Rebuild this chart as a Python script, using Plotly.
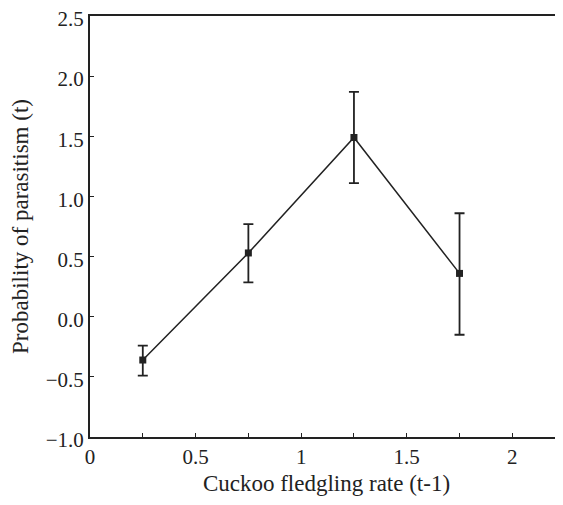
import plotly.graph_objects as go

x_vals = [0.25, 0.75, 1.25, 1.75]
y_vals = [-0.36, 0.53, 1.49, 0.36]
err_plus = [0.12, 0.24, 0.38, 0.50]
err_minus = [0.13, 0.245, 0.38, 0.51]

x_tickvals = [0, 0.5, 1, 1.5, 2]
x_ticktext = ["0", "0.5", "1", "1.5", "2"]
y_tickvals = [-1.0, -0.5, 0.0, 0.5, 1.0, 1.5, 2.0, 2.5]
y_ticktext = ["\u22121.0", "\u22120.5", "0.0", "0.5", "1.0", "1.5", "2.0", "2.5"]

font_family = "Liberation Serif"
ink = "#222222"

fig = go.Figure(go.Scatter(
    x=x_vals, y=y_vals,
    mode="lines+markers",
    line=dict(color=ink, width=1.5),
    marker=dict(symbol="square", size=7, color=ink),
    error_y=dict(type="data", symmetric=False, array=err_plus, arrayminus=err_minus,
                 color=ink, thickness=1.8, width=5),
    showlegend=False,
))

# page body has an 8px default margin, so the figure is sized to fit the window
fig.update_layout(
    width=555, height=489,
    margin=dict(l=82, r=0, t=8, b=60),
    paper_bgcolor="white", plot_bgcolor="white",
    font=dict(family=font_family, size=21, color=ink),
    xaxis=dict(
        range=[0, 2.24], tickvals=x_tickvals, ticktext=x_ticktext, automargin=False,
        ticks="inside", ticklen=4, tickcolor=ink, showgrid=False, zeroline=False,
        showline=True, linecolor=ink, linewidth=2, mirror=True, ticklabeloverflow="allow",
        minor=dict(tickvals=[0.25, 0.75, 1.25, 1.75], ticks="inside", ticklen=4, tickcolor=ink),
        title=dict(text="Cuckoo fledgling rate (t-1)", standoff=7, font=dict(size=23)),
        tickfont=dict(size=21),
    ),
    yaxis=dict(
        range=[-1.0, 2.5], tickvals=y_tickvals, ticktext=y_ticktext, automargin=False,
        ticks="inside", ticklen=4, tickcolor=ink, showgrid=False, zeroline=False,
        showline=True, linecolor=ink, linewidth=2, mirror=False, ticklabeloverflow="allow",
        ticklabelshift=3,
        title=dict(text="Probability of parasitism (t)", standoff=14, font=dict(size=23)),
        tickfont=dict(size=21),
    ),
)

fig.write_html("out.html")
